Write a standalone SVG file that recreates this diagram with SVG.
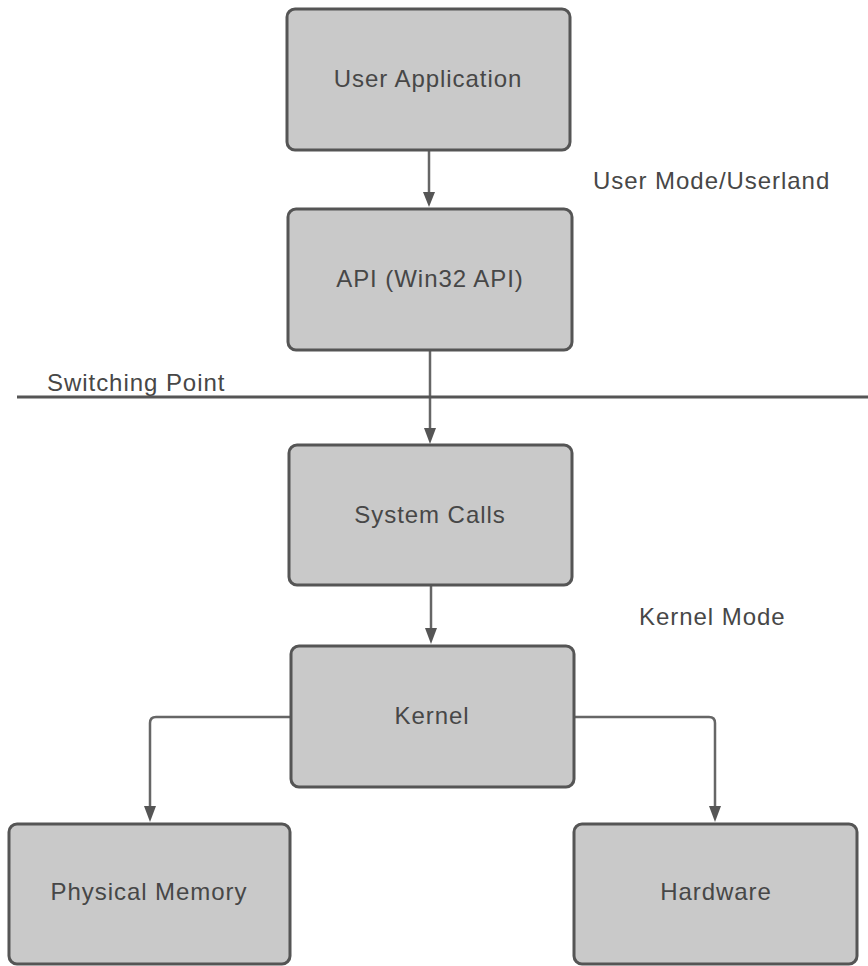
<svg xmlns="http://www.w3.org/2000/svg" width="868" height="966" viewBox="0 0 868 966">
<style>
.box{fill:#c9c9c9;stroke:#555;stroke-width:3}
.t{font-family:"Liberation Sans",Arial,sans-serif;font-size:24px;fill:#474747;letter-spacing:0.95px}
.c{text-anchor:middle}
.ln{fill:none;stroke:#666;stroke-width:2.5}
.ah{fill:#555}
</style>
<rect width="868" height="966" fill="#fff"/>
<g id="connectors">
<path class="ln" d="M429,151 V192"/>
<path class="ah" d="M423,192 H435 L429,207 Z"/>
<path class="ln" d="M430,351 V428"/>
<path class="ah" d="M424,428 H436 L430,444 Z"/>
<path class="ln" d="M431,586 V628"/>
<path class="ah" d="M425,628 H437 L431,644 Z"/>
<path class="ln" d="M290,717 H156 Q150,717 150,723 V806"/>
<path class="ah" d="M144,806 H156 L150,822 Z"/>
<path class="ln" d="M574,717 H709 Q715,717 715,723 V806"/>
<path class="ah" d="M709,806 H721 L715,822 Z"/>
</g>
<g id="switching-line">
<line x1="17" y1="397" x2="868" y2="397" stroke="#555" stroke-width="3"/>
<text class="t" x="47" y="391">Switching Point</text>
</g>
<g id="user-application">
<rect class="box" x="287" y="9" width="283" height="141" rx="8"/>
<text class="t c" x="428" y="87">User Application</text>
</g>
<g id="api">
<rect class="box" x="288" y="209" width="284" height="141" rx="8"/>
<text class="t c" x="430" y="287">API (Win32 API)</text>
</g>
<g id="system-calls">
<rect class="box" x="289" y="445" width="283" height="140" rx="8"/>
<text class="t c" x="430" y="523">System Calls</text>
</g>
<g id="kernel">
<rect class="box" x="291" y="646" width="283" height="141" rx="8"/>
<text class="t c" x="432" y="724">Kernel</text>
</g>
<g id="physical-memory">
<rect class="box" x="9" y="824" width="281" height="140" rx="8"/>
<text class="t c" x="149" y="900">Physical Memory</text>
</g>
<g id="hardware">
<rect class="box" x="574" y="824" width="283" height="140" rx="8"/>
<text class="t c" x="716" y="900">Hardware</text>
</g>
<g id="labels">
<text class="t" x="593" y="189">User Mode/Userland</text>
<text class="t" x="639" y="625">Kernel Mode</text>
</g>
</svg>
